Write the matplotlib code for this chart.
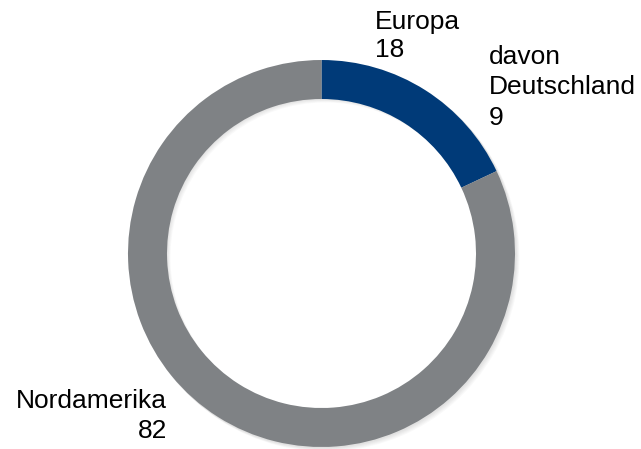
import matplotlib
matplotlib.use("Agg")
import matplotlib.pyplot as plt

plt.rcParams['font.family'] = ['Liberation Sans', 'DejaVu Sans']

regions = ["Europa", "Nordamerika"]
shares = [18, 82]
colors = ["#003A78", "#7F8285"]
sub_label = "davon\nDeutschland"
sub_share = 9

W, H = 641, 449
fig = plt.figure(figsize=(W / 100, H / 100), dpi=100)
ax = fig.add_axes([0, 0, 1, 1])

cx, cy = 321.5, H - 253.5
r_out = 193.5
ring = 39

# soft drop shadow under the ring
for i in range(1, 6):
    ax.pie(shares, colors=["black"] * 2, startangle=90, counterclock=False,
           center=(cx + i * 0.8, cy - i * 0.8), radius=r_out + 0.5,
           wedgeprops=dict(width=ring, alpha=0.025, linewidth=0))

ax.pie(shares, colors=colors, startangle=90, counterclock=False,
       center=(cx, cy), radius=r_out,
       wedgeprops=dict(width=ring, linewidth=0))

ax.set_xlim(0, W)
ax.set_ylim(0, H)
ax.set_aspect('equal')
ax.axis('off')

fs = 19
ax.text(375, H - 10, f"{regions[0]}\n{shares[0]}", fontsize=fs,
        ha='left', va='top', linespacing=1.2)
ax.text(489, H - 45, f"{sub_label}\n{sub_share}", fontsize=fs,
        ha='left', va='top', linespacing=1.33)
ax.text(167, H - 443, f"{regions[1]}\n{shares[1]}", fontsize=fs,
        ha='right', va='bottom', linespacing=1.3, multialignment='right')

fig.savefig("out.png", dpi=100, facecolor="white")
